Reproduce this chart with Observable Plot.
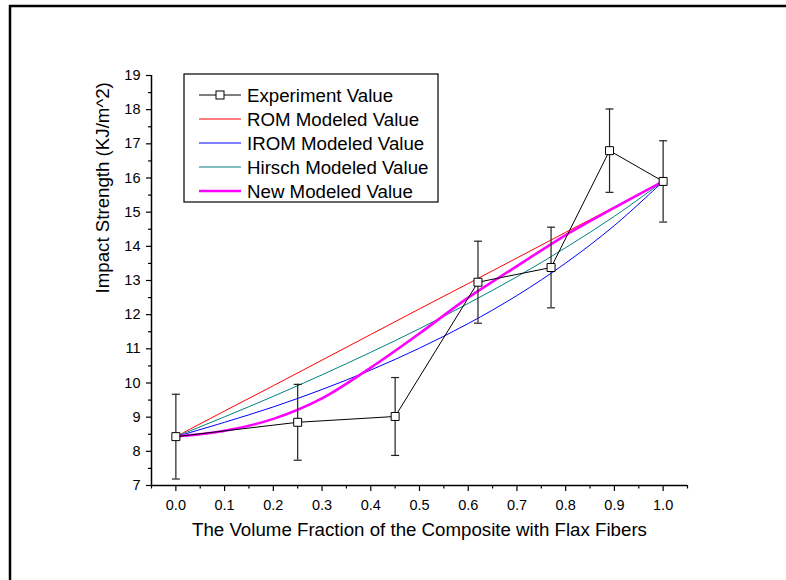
<!DOCTYPE html>
<html>
<head>
<meta charset="utf-8">
<script src="https://cdn.jsdelivr.net/npm/d3@7"></script>
<script src="https://cdn.jsdelivr.net/npm/@observablehq/plot@0.6"></script>
<style>
  html, body { margin: 0; padding: 0; background: white; }
  #chart { position: absolute; left: 0; top: 0; }
</style>
</head>
<body>
<div id="chart"></div>
<script>
// Experiment data
const expX = [0, 0.25, 0.45, 0.62, 0.77, 0.89, 1.0];
const expValues = [8.43, 8.85, 9.02, 12.95, 13.38, 16.8, 15.9];
const expErrors = [1.24, 1.11, 1.14, 1.2, 1.18, 1.22, 1.19];

// Model curves (values read at x = 0, 0.1, ..., 1.0)
const modelX = [0, 0.1, 0.2, 0.3, 0.4, 0.5, 0.6, 0.7, 0.8, 0.9, 1.0];
const romValues = [8.43, 9.18, 9.92, 10.67, 11.42, 12.17, 12.91, 13.66, 14.41, 15.15, 15.9];
const iromValues = [8.43, 8.85, 9.30, 9.81, 10.38, 11.02, 11.74, 12.56, 13.51, 14.61, 15.9];
const hirschValues = [8.43, 9.01, 9.61, 10.24, 10.90, 11.59, 12.33, 13.11, 13.96, 14.88, 15.9];
const newValues = [8.43, 8.6, 8.95, 9.55, 10.45, 11.45, 12.5, 13.42, 14.33, 15.13, 15.9];

// Ticks
const xMajorTicks = [0, 0.1, 0.2, 0.3, 0.4, 0.5, 0.6, 0.7, 0.8, 0.9, 1.0];
const xMinorTicks = [-0.05, 0.05, 0.15, 0.25, 0.35, 0.45, 0.55, 0.65, 0.75, 0.85, 0.95, 1.05];
const yMajorTicks = [7, 8, 9, 10, 11, 12, 13, 14, 15, 16, 17, 18, 19];
const yMinorTicks = [7.5, 8.5, 9.5, 10.5, 11.5, 12.5, 13.5, 14.5, 15.5, 16.5, 17.5, 18.5];

const xTitle = "The Volume Fraction of the Composite with Flax Fibers";
const yTitle = "Impact Strength (KJ/m^2)";

const seriesNames = ["Experiment Value", "ROM Modeled Value", "IROM Modeled Value", "Hirsch Modeled Value", "New Modeled Value"];
const seriesColors = ["#000000", "#ff0000", "#0000ff", "#008080", "#ff00ff"];
const seriesWidths = [1, 1, 1, 1, 2.6];

const exp = expX.map((x, i) => ({x, y: expValues[i], lo: expValues[i] - expErrors[i], hi: expValues[i] + expErrors[i]}));
const models = [romValues, iromValues, hirschValues, newValues];
const modelRows = models.flatMap((vals, k) => modelX.map((x, i) => ({x, y: vals[i], s: seriesNames[k + 1]})));

const capSymbol = {
  draw(context, size) {
    const h = Math.sqrt(size / Math.PI);
    context.moveTo(-h, 0);
    context.lineTo(h, 0);
  }
};

const W = 786, H = 580;
const mL = 151, mR = 99, mT = 75, mB = 95;
const fontFam = "'Liberation Sans', Arial, Helvetica, sans-serif";

const svg = Plot.plot({
  width: W,
  height: H,
  marginLeft: mL,
  marginRight: mR,
  marginTop: mT,
  marginBottom: mB,
  style: {fontFamily: fontFam, color: "black", background: "white", overflow: "visible"},
  x: {domain: [-0.05, 1.05]},
  y: {domain: [7, 19]},
  marks: [
    // models
    ...models.map((vals, k) => Plot.line(modelRows.filter(d => d.s === seriesNames[k + 1]), {
      x: "x", y: "y", stroke: seriesColors[k + 1], strokeWidth: seriesWidths[k + 1], curve: "catmull-rom"
    })),
    // error bars
    Plot.ruleX(exp, {x: "x", y1: "lo", y2: "hi", stroke: "#222", strokeWidth: 1.2}),
    Plot.dot(exp, {x: "x", y: "hi", symbol: capSymbol, r: 4, stroke: "#222", strokeWidth: 1.2, fill: "none"}),
    Plot.dot(exp, {x: "x", y: "lo", symbol: capSymbol, r: 4, stroke: "#222", strokeWidth: 1.2, fill: "none"}),
    // experiment line + squares
    Plot.line(exp, {x: "x", y: "y", stroke: "black", strokeWidth: 1}),
    Plot.dot(exp, {x: "x", y: "y", symbol: "square", r: 4.5, fill: "white", stroke: "black", strokeWidth: 1}),
    // axes
    Plot.ruleY([7], {stroke: "black", strokeWidth: 1.5}),
    Plot.ruleX([-0.05], {stroke: "black", strokeWidth: 1.5}),
    Plot.axisX(xMajorTicks, {tickSize: 6, tickPadding: 8, tickFormat: d3.format(".1f"), fontSize: 14.5, label: null, strokeWidth: 1.2}),
    Plot.axisX(xMinorTicks, {tickSize: 3.5, tickFormat: () => "", label: null, strokeWidth: 1.2}),
    Plot.axisY(yMajorTicks, {tickSize: 5, tickPadding: 6, fontSize: 14.5, label: null, strokeWidth: 1.2}),
    Plot.axisY(yMinorTicks, {tickSize: 3, tickFormat: () => "", label: null, strokeWidth: 1.2}),
    // axis titles
    Plot.text([xTitle], {text: d => d, frameAnchor: "bottom", dy: 50, fontSize: 18.7, fill: "black"}),
    Plot.text([yTitle], {text: d => d, frameAnchor: "left", dx: -48, dy: 13, rotate: -90, fontSize: 18.7, fill: "black"})
  ]
});

// Legend (inside plot area, top-left)
const sel = d3.select(svg);
const lg = sel.append("g").attr("font-family", fontFam).attr("font-size", 18.7).attr("text-anchor", "start");
const lx = 184, ly = 74, lw = 254, lh = 128;
lg.append("rect").attr("x", lx).attr("y", ly).attr("width", lw).attr("height", lh)
  .attr("fill", "white").attr("stroke", "black").attr("stroke-width", 1.2);
seriesNames.forEach((name, i) => {
  const cy = ly + 21 + i * 24;
  lg.append("line").attr("x1", lx + 15).attr("x2", lx + 57).attr("y1", cy).attr("y2", cy)
    .attr("stroke", seriesColors[i]).attr("stroke-width", seriesWidths[i]);
  if (i === 0) {
    lg.append("rect").attr("x", lx + 36 - 4).attr("y", cy - 4).attr("width", 8).attr("height", 8)
      .attr("fill", "white").attr("stroke", "black");
  }
  lg.append("text").attr("x", lx + 63).attr("y", cy).attr("dy", "0.36em")
    .attr("text-anchor", "start").attr("fill", "black").text(name);
});

// Outer frame (top and left edges visible)
sel.append("line").attr("x1", 9).attr("x2", W).attr("y1", 6).attr("y2", 6).attr("stroke", "black").attr("stroke-width", 2.5);
sel.append("line").attr("x1", 10).attr("x2", 10).attr("y1", 5).attr("y2", H).attr("stroke", "black").attr("stroke-width", 2.5);

document.getElementById("chart").appendChild(svg);
</script>
</body>
</html>
